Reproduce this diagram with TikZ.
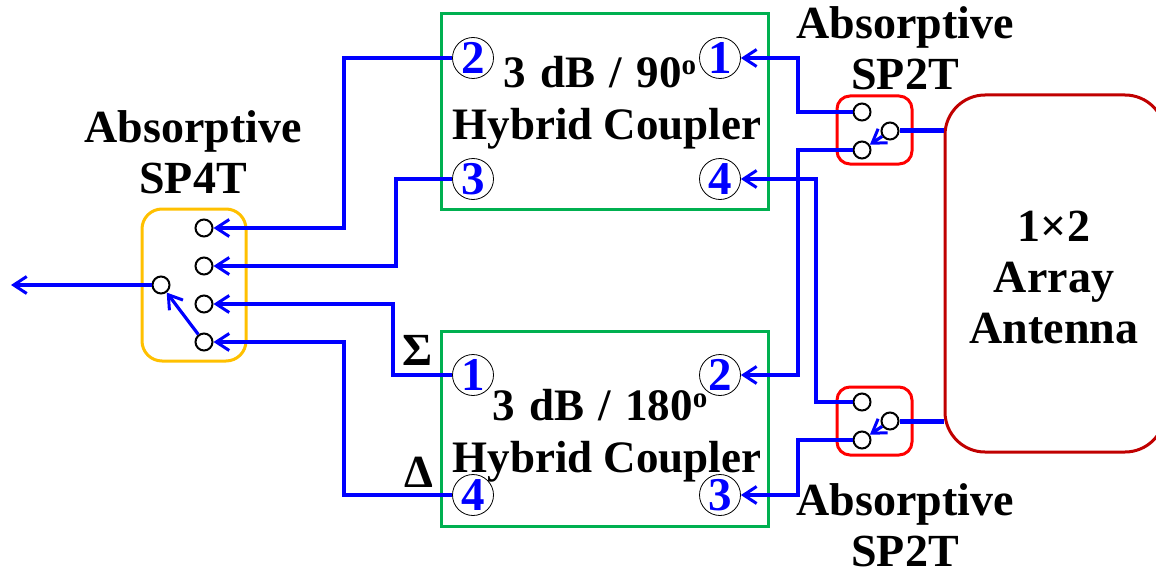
\documentclass[tikz,border=0pt]{standalone}
\usepackage{fontspec}
\setmainfont{Liberation Serif}
\usetikzlibrary{arrows.meta}
\newcommand{\wirecolor}{blue}
\newcommand{\labelsize}{\fontsize{46}{51}\bfseries\selectfont}
\newcommand{\couplersize}{\fontsize{45}{52}\bfseries\selectfont}
\newcommand{\portsize}{\fontsize{47}{47}\bfseries\selectfont}
\newcommand{\degmark}{\raisebox{13pt}{\fontsize{29}{29}\selectfont o}}
\definecolor{couplergreen}{RGB}{0,176,80}
\definecolor{spfourgold}{RGB}{255,192,0}
\definecolor{antennared}{RGB}{192,0,0}
\tikzset{
  wire/.style={\wirecolor,line width=3.2pt},
  feed/.style={\wirecolor,line width=5pt},
  coupler/.style={draw=couplergreen,line width=3pt,minimum width=327pt,minimum height=195pt,inner sep=0pt},
  port/.style={draw,circle,line width=0.8pt,minimum size=41pt,inner sep=0pt,text=\wirecolor,font=\portsize},
  throw/.style={draw,circle,fill=white,line width=2pt,minimum size=17pt,inner sep=0pt},
  spbox/.style={draw=red,line width=3pt,rounded corners=13pt,minimum width=75pt,minimum height=68pt,inner sep=0pt},
  title/.style={align=center,inner sep=0pt,font=\labelsize},
  couplertext/.style={align=center,inner sep=0pt,font=\couplersize}
}
\begin{document}
\begin{tikzpicture}[x=1pt,y=-1pt,>={Straight Barb[length=13pt,width=17pt,line width=3pt]}]
\useasboundingbox (0,0) rectangle (1156,575);
%couplers
\node[coupler] (hyb90) at (604.5,111.5) {};
\node[coupler] (hyb180) at (604.5,429) {};
\node[port] (a2) at (473,58) {2};
\node[port] (a1) at (720,58) {1};
\node[port] (a3) at (473,179) {3};
\node[port] (a4) at (720,179) {4};
\node[port] (b1) at (473,375) {1};
\node[port] (b2) at (720,375) {2};
\node[port] (b4) at (473,495) {4};
\node[port] (b3) at (720,495) {3};
\node[couplertext] (hyb90text) at (607,103) {3\hspace{3pt} dB\hspace{3pt} /\hspace{3pt} 90\degmark\hspace*{14pt}\\Hybrid Coupler};
\node[couplertext] (hyb180text) at (607,436) {3\hspace{3pt} dB\hspace{3pt} /\hspace{3pt} 180\degmark\hspace*{14pt}\\Hybrid Coupler};
\node[title] (sum) at (418,350) {Σ};
\node[title] (diff) at (419,472) {Δ};
%switches
\node[draw=spfourgold,line width=3pt,rounded corners=20pt,minimum width=104pt,minimum height=152pt,inner sep=0pt] (sp4) at (194,285) {};
\node[spbox] (topsw) at (874.5,130) {};
\node[spbox] (botsw) at (874.5,421) {};
\node[draw=antennared,line width=3pt,rounded corners=40pt,minimum width=220pt,minimum height=357pt,inner sep=0pt] (ant) at (1055,273.5) {};
\node[title] (anttext) at (1054,277) {1×2\\Array\\Antenna};
\node[title] (sp4text) at (193,152) {Absorptive\\SP4T};
\node[title] (toptext) at (905,48) {Absorptive\\SP2T};
\node[title] (bottext) at (905,525) {Absorptive\\SP2T};
\node[throw] (s1) at (204,228) {};
\node[throw] (s2) at (204,266) {};
\node[throw] (s3) at (204,304) {};
\node[throw] (s4) at (204,342) {};
\node[throw] (s0) at (161,285) {};
\node[throw] (ta) at (862,112) {};
\node[throw] (tb) at (862,150) {};
\node[throw] (tc) at (890,131) {};
\node[throw] (ba) at (862,402) {};
\node[throw] (bb) at (862,440) {};
\node[throw] (bc) at (890,421) {};
%wires
\coordinate (out) at (11,285);
\coordinate (busa) at (344,0);
\coordinate (busb) at (396,0);
\coordinate (busc) at (393,0);
\coordinate (busd) at (798,0);
\coordinate (buse) at (816,0);
\draw[wire,->] (a2) -- (a2 -| busa) |- (s1);
\draw[wire,->] (a3) -- (a3 -| busb) |- (s2);
\draw[wire,->] (b1) -- (b1 -| busc) |- (s3);
\draw[wire,->] (b4) -- (b4 -| busa) |- (s4);
\draw[wire,->] (s0) -- (out);
\draw[wire,->] (s4) -- (s0);
\draw[wire,->] (ta) -- (ta -| busd) |- (a1);
\draw[wire,->] (tb) -- (tb -| busd) |- (b2);
\draw[wire,->] (ba) -- (ba -| buse) |- (a4);
\draw[wire,->] (bb) -- (bb -| busd) |- (b3);
\draw[feed] (ant.west |- tc) -- (tc);
\draw[feed] (ant.west |- bc) -- (bc);
\draw[wire,->] (tc) -- (tb);
\draw[wire,->] (bc) -- (bb);
\end{tikzpicture}
\end{document}
